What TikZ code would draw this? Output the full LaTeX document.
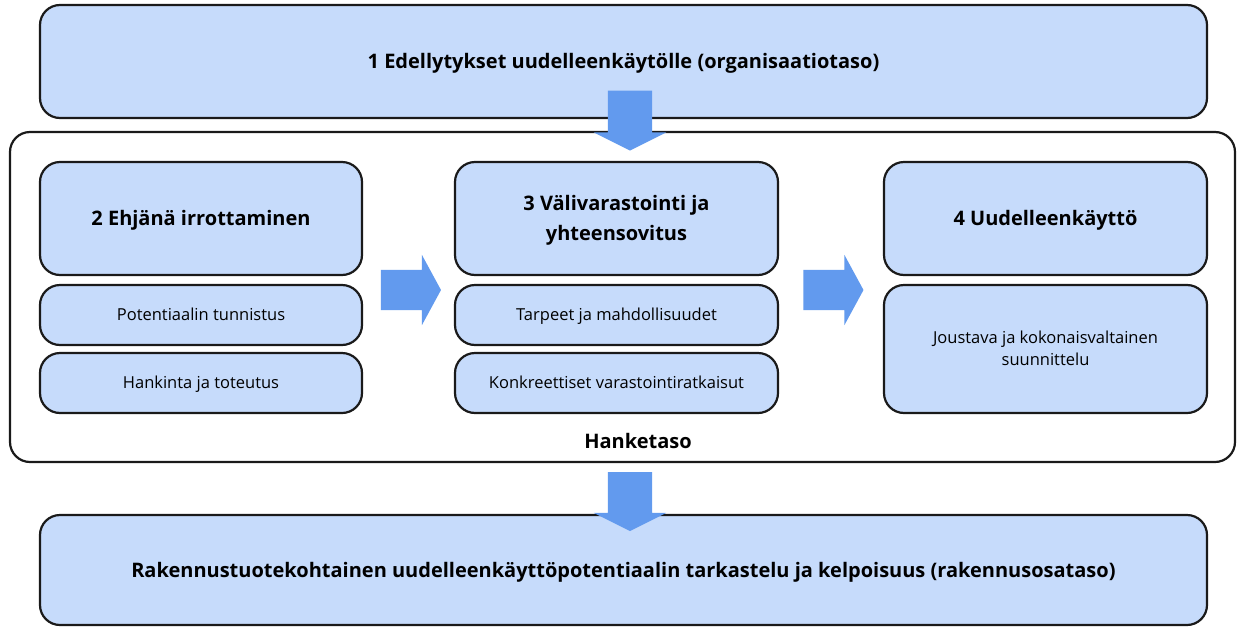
\documentclass[tikz,border=0pt]{standalone}
\usepackage{fontspec}
\setmainfont{Open Sans}
\usetikzlibrary{shapes.arrows, calc, positioning}
\definecolor{boxblue}{RGB}{198,219,251}
\definecolor{arrowblue}{RGB}{98,154,238}
\definecolor{edgegray}{RGB}{26,26,26}

\tikzset{
	box/.style = {draw = edgegray, fill = boxblue, line width = 2.2pt, rounded corners = 20pt, align = center, inner sep = 0pt},
	bigtext/.style = {font = \fontsize{20}{30}\selectfont\bfseries, text height = 14.3pt, text depth = 0pt},
	smalltext/.style = {font = \fontsize{16.5}{22}\selectfont, text height = 11.8pt, text depth = 0pt},
	blockarrow/.style = {single arrow, fill = arrowblue, draw = none, inner xsep = 0pt, minimum width = 0pt, single arrow head extend = 15pt}
}

\begin{document}
\begin{tikzpicture}[x = 1pt, y = -1pt]

	\useasboundingbox (0, 0) rectangle (1237, 627);

	%%% HANKETASO %%%

	\node[box, fill = white, minimum width = 1225pt, minimum height = 330pt] (hanke) at (622.5, 297) {};
	\node[bigtext] (hankelabel) at (638, 441) {Hanketaso};

	%%% YLEMPI JA ALEMPI TASO %%%

	\node[box, bigtext, minimum width = 1167pt, minimum height = 113pt] (org) at (623.5, 61.5) {1 Edellytykset uudelleenkäytölle (organisaatiotaso)};
	\node[box, bigtext, minimum width = 1167pt, minimum height = 110pt] (osa) at (623.5, 570) {Rakennustuotekohtainen uudelleenkäyttöpotentiaalin tarkastelu ja kelpoisuus (rakennusosataso)};

	%%% VAIHEET %%%

	\node[box, bigtext, minimum width = 322pt, minimum height = 113pt] (irrotus) at (201, 218.5) {2 Ehjänä irrottaminen};
	\node[box, smalltext, minimum width = 322pt, minimum height = 60pt] (tunnistus) at (201, 315) {Potentiaalin tunnistus};
	\node[box, smalltext, minimum width = 322pt, minimum height = 60pt] (hankinta) at (201, 383) {Hankinta ja toteutus};

	\node[box, bigtext, text height = 44.3pt, minimum width = 323pt, minimum height = 113pt] (varastointi) at (616.5, 218.5) {3 Välivarastointi ja\\yhteensovitus};
	\node[box, smalltext, minimum width = 323pt, minimum height = 60pt] (tarpeet) at (616.5, 315) {Tarpeet ja mahdollisuudet};
	\node[box, smalltext, minimum width = 323pt, minimum height = 60pt] (ratkaisut) at (616.5, 383) {Konkreettiset varastointiratkaisut};

	\node[box, bigtext, minimum width = 323pt, minimum height = 113pt] (kaytto) at (1045.5, 218.5) {4 Uudelleenkäyttö};
	\node[box, smalltext, text height = 33.8pt, minimum width = 323pt, minimum height = 128pt] (suunnittelu) at (1045.5, 349) {Joustava ja kokonaisvaltainen\\suunnittelu};

	%%% NUOLET %%%

	\node[blockarrow, inner ysep = 20pt, minimum height = 60pt, single arrow tip angle = 123] (nuoli1) at ($(tunnistus.east)!0.5!(tarpeet.west) + (-3, -25)$) {};
	\node[blockarrow, inner ysep = 20pt, minimum height = 60pt, single arrow tip angle = 123] (nuoli2) at ($(tarpeet.east)!0.5!(tarpeet.east -| suunnittelu.west) + (-3, -25)$) {};
	\node[blockarrow, inner ysep = 22pt, minimum height = 60pt, single arrow head extend = 14pt, single arrow tip angle = 127, rotate = -90] (nuoli0) at (630, 115) {};
	\node[blockarrow, inner ysep = 22pt, minimum height = 59pt, single arrow head extend = 14pt, single arrow tip angle = 127, rotate = -90] (nuoli3) at (630, 496) {};

\end{tikzpicture}
\end{document}
